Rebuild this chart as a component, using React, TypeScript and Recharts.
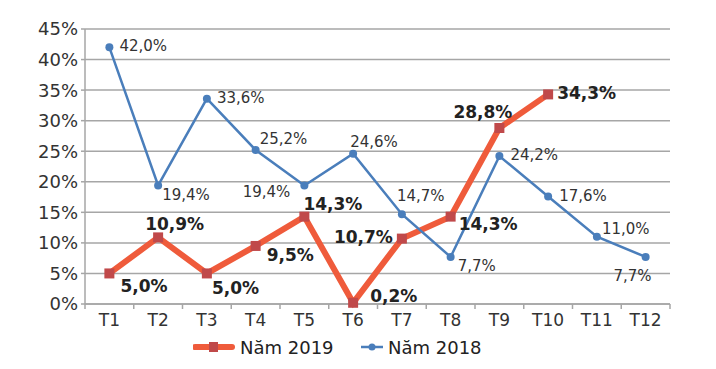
import React from 'react';
import { LineChart, Line, XAxis, YAxis, CartesianGrid, Legend, LabelList } from 'recharts';

const months = ['T1', 'T2', 'T3', 'T4', 'T5', 'T6', 'T7', 'T8', 'T9', 'T10', 'T11', 'T12'];
const rate2019 = [5.0, 10.9, 5.0, 9.5, 14.3, 0.2, 10.7, 14.3, 28.8, 34.3, null, null];
const rate2018 = [42.0, 19.4, 33.6, 25.2, 19.4, 24.6, 14.7, 7.7, 24.2, 17.6, 11.0, 7.7];
const yTicks = [0, 5, 10, 15, 20, 25, 30, 35, 40, 45];

const data = months.map((m, i) => ({ month: m, y2019: rate2019[i], y2018: rate2018[i] }));

// where each value label sits next to its point: [dx, dy, anchor]
const place2019: [number, number, string][] = [
  [11, 13, 'start'], [-13, -13, 'start'], [5, 15, 'start'], [11, 9, 'start'], [-1, -13, 'start'],
  [17, -7, 'start'], [-9, -2, 'end'], [8, 7, 'start'], [13, -16, 'end'], [9, -1, 'start'],
];
const place2018: [number, number, string][] = [
  [10, -1, 'start'], [4, 10, 'start'], [10, -1, 'start'], [4, -11, 'start'], [-14, 7, 'end'],
  [-3, -12, 'start'], [-5, -18, 'start'], [7, 9, 'start'], [11, -1, 'start'], [11, 0, 'start'],
  [5, -8, 'start'], [6, 19, 'end'],
];

const FONT = '"DejaVu Sans", sans-serif';
const GRID = '#a6a6a6';
const ORANGE = '#ef5b3b';
const RED = '#c0494a';
const BLUE = '#4a7ebb';

const fmt = (v: number) => v.toFixed(1).replace('.', ',') + '%';

function makeLabel(place: [number, number, string][], bold: boolean) {
  return (props: any) => {
    const { x, y, value, index } = props;
    if (value == null || x == null || y == null) return null;
    const [dx, dy, anchor] = place[index] || [8, 0, 'start'];
    return (
      <text
        x={x + dx}
        y={y + dy}
        textAnchor={anchor}
        dominantBaseline="central"
        fontFamily={FONT}
        fontSize={bold ? 17 : 15}
        fontWeight={bold ? 'bold' : 'normal'}
        fill={bold ? '#222' : '#333'}
      >
        {fmt(value)}
      </text>
    );
  };
}

function MonthTick(props: any) {
  const { x, y, payload, index, visibleTicksCount, width } = props;
  const count = visibleTicksCount || months.length;
  const bw = (typeof width === 'number' ? width : 585) / count;
  return (
    <g>
      <line x1={x - bw / 2} y1={y} x2={x - bw / 2} y2={y + 5} stroke={GRID} strokeWidth={1.5} />
      {index === count - 1 && (
        <line x1={x + bw / 2} y1={y} x2={x + bw / 2} y2={y + 5} stroke={GRID} strokeWidth={1.5} />
      )}
      <text x={x} y={y + 22} textAnchor="middle" fontFamily={FONT} fontSize={17} fill="#333">
        {payload.value}
      </text>
    </g>
  );
}

function SquareDot(props: any) {
  const { cx, cy, index } = props;
  if (cx == null || cy == null) return <g key={index} />;
  return <rect key={index} x={cx - 5} y={cy - 5} width={10} height={10} fill={RED} />;
}

function LegendBox() {
  return (
    <svg width={310} height={24} style={{ marginLeft: 185, display: 'block' }}>
      <line x1={2} y1={12} x2={39} y2={12} stroke={ORANGE} strokeWidth={6} strokeLinecap="round" />
      <rect x={16} y={7} width={9} height={10} fill={RED} />
      <text x={47} y={12} dominantBaseline="central" fontFamily={FONT} fontSize={18} fill="#222">
        Năm 2019
      </text>
      <line x1={168} y1={12} x2={190} y2={12} stroke={BLUE} strokeWidth={2.5} />
      <circle cx={179} cy={12} r={3.5} fill={BLUE} />
      <text x={195} y={12} dominantBaseline="central" fontFamily={FONT} fontSize={18} fill="#222">
        Năm 2018
      </text>
    </svg>
  );
}

export default function App() {
  return (
    <div style={{ width: 700, height: 353 }}>
      <LineChart width={700} height={353} data={data} margin={{ top: 21, right: 38, bottom: 27, left: 0 }}>
        <CartesianGrid vertical={false} stroke={GRID} strokeWidth={1.5} />
        <XAxis
          dataKey="month"
          scale="band"
          height={30}
          axisLine={{ stroke: GRID, strokeWidth: 1.5 }}
          tickLine={false}
          tickSize={0}
          tickMargin={0}
          interval={0}
          tick={<MonthTick />}
        />
        <YAxis
          width={77}
          domain={[0, 45]}
          ticks={yTicks}
          interval={0}
          tickFormatter={(v) => `${v}%`}
          axisLine={{ stroke: GRID, strokeWidth: 1.5 }}
          tickLine={{ stroke: GRID, strokeWidth: 1.5 }}
          tickSize={4}
          tickMargin={3}
          tick={{ fontFamily: FONT, fontSize: 18, fill: '#333' }}
        />
        <Legend
          layout="horizontal"
          verticalAlign="middle"
          align="center"
          wrapperStyle={{ top: 327, left: 0, width: 700 }}
          content={() => <LegendBox />}
        />
        <Line
          dataKey="y2019"
          stroke={ORANGE}
          strokeWidth={6}
          dot={<SquareDot />}
          activeDot={false}
          isAnimationActive={false}
        >
          <LabelList dataKey="y2019" content={makeLabel(place2019, true)} />
        </Line>
        <Line
          dataKey="y2018"
          stroke={BLUE}
          strokeWidth={2.5}
          dot={{ r: 4, fill: BLUE, stroke: BLUE, strokeWidth: 0 }}
          activeDot={false}
          isAnimationActive={false}
        >
          <LabelList dataKey="y2018" content={makeLabel(place2018, false)} />
        </Line>
      </LineChart>
    </div>
  );
}
